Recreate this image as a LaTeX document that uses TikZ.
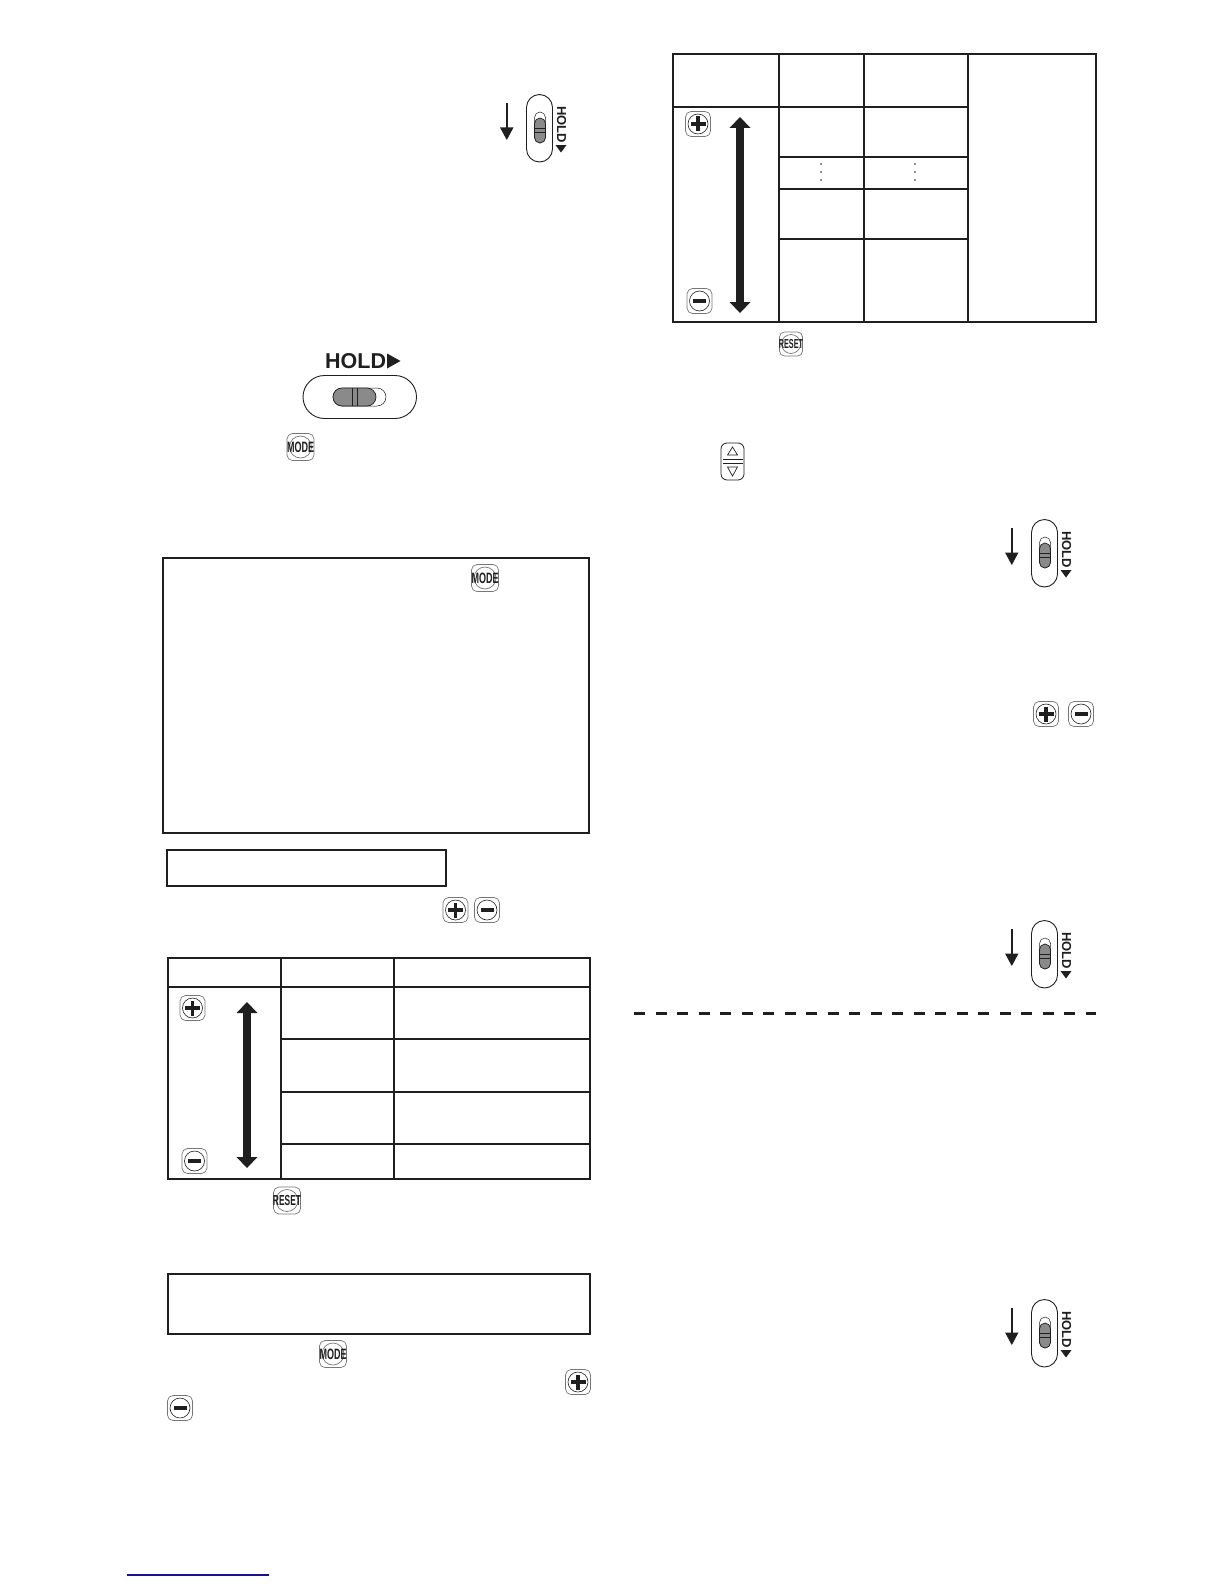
\documentclass[tikz,border=0pt]{standalone}
\usepackage{fontspec}
\setmainfont{Liberation Sans}
\definecolor{ink}{HTML}{1F1F1F}
\definecolor{slider}{HTML}{8A8A8A}
\definecolor{btn}{HTML}{777777}
\definecolor{navy}{HTML}{14148C}
\tikzset{
  rule/.style={draw=ink,line width=2pt},
  thinbtn/.style={draw=btn,line width=0.7pt},
  outline/.style={draw=ink,line width=0.9pt},
  gray slide/.style={fill=slider,draw=ink,line width=0.7pt},
  btnlabel/.style={inner sep=0pt,text=ink},
}
\newcommand{\keytext}[5]{%
  \draw[thinbtn,rounded corners=5.5pt] (#1-13.5,#2-13.5) rectangle (#1+13.5,#2+13.5);
  \draw[thinbtn] (#1,#2) circle (11);
  \node[btnlabel,font=\bfseries\fontsize{#4}{#4}\selectfont,xscale=#5] (#3) at (#1,#2) {#3};
}
\newcommand{\smallkeytext}[5]{%
  \draw[thinbtn,rounded corners=5pt] (#1-11.5,#2-12) rectangle (#1+11.5,#2+12);
  \draw[thinbtn] (#1,#2) circle (9.5);
  \node[btnlabel,font=\bfseries\fontsize{#4}{#4}\selectfont,xscale=#5] (#3) at (#1,#2) {#3};
}
\newcommand{\pluskey}[2]{%
  \draw[thinbtn,rounded corners=5.5pt] (#1-12.5,#2-12.5) rectangle (#1+12.5,#2+12.5);
  \draw[draw=ink,line width=0.6pt] (#1,#2) circle (10);
  \fill[ink] (#1-7.5,#2-1.9) rectangle (#1+7.5,#2+1.9);
  \fill[ink] (#1-1.9,#2-7.5) rectangle (#1+1.9,#2+7.5);
}
\newcommand{\minuskey}[2]{%
  \draw[thinbtn,rounded corners=5.5pt] (#1-12.5,#2-12.5) rectangle (#1+12.5,#2+12.5);
  \draw[draw=ink,line width=0.6pt] (#1,#2) circle (10);
  \fill[ink] (#1-6.5,#2-2.2) rectangle (#1+6.5,#2+2.2);
}
\newcommand{\vhold}[2]{%
  \begin{scope}[shift={(#1,#2)}]
    \fill[ink] (505.8,103) rectangle (507.8,128);
    \fill[ink] (500,127.5) -- (513.5,127.5) -- (506.8,140) -- cycle;
    \draw[outline,rounded corners=13pt] (526.5,94.5) rectangle (552.5,162);
    \draw[draw=ink,line width=0.5pt,rounded corners=5.5pt] (534.5,112) rectangle (545.5,143);
    \draw[gray slide,rounded corners=5.5pt] (534.5,118) rectangle (545.5,143);
    \draw[draw=ink,line width=0.3pt] (534.5,128) -- (545.5,128) (534.5,132) -- (545.5,132);
    \node[font=\bfseries\fontsize{13}{13}\selectfont,rotate=-90,inner sep=0pt,text=ink] at (561.5,124.5) {HOLD};
    \fill[ink] (555.5,145) -- (566.5,145) -- (561,152.5) -- cycle;
  \end{scope}
}
\newcommand{\dblarrow}[3]{%
  \fill[ink] (#1-3.7,#2+9) rectangle (#1+3.7,#3-9);
  \fill[ink] (#1,#2) -- (#1+10.5,#2+11) -- (#1-10.5,#2+11) -- cycle;
  \fill[ink] (#1,#3) -- (#1+10.5,#3-11) -- (#1-10.5,#3-11) -- cycle;
}
\newcommand{\vdotsat}[2]{%
  \fill[ink] (#1,#2-8) circle (0.9) (#1,#2) circle (0.9) (#1,#2+8) circle (0.9);
}
\begin{document}
\begin{tikzpicture}[x=1pt,y=-1pt]
\useasboundingbox[fill=white] (0,0) rectangle (1224,1584);

\vhold{0}{0}
\node[font=\bfseries\fontsize{21.5}{21.5}\selectfont,inner sep=0pt,anchor=west,text=ink] (holdtxt) at (325,361) {HOLD};
\fill[ink] (387,353.5) -- (400.5,361) -- (387,368.5) -- cycle;
\draw[outline,rounded corners=21.5pt] (303,375.5) rectangle (416.5,418.5);
\draw[draw=ink,line width=0.5pt,rounded corners=9pt] (333,388) rectangle (386,406);
\draw[gray slide,rounded corners=9pt] (333,388) rectangle (376,406);
\draw[draw=ink,line width=0.3pt] (352,388) -- (352,406) (357,388) -- (357,406);
\keytext{300.5}{447}{MODE}{15}{0.6}

\draw[rule] (163,558) rectangle (589,832.5);
\keytext{485}{578}{MODE}{15}{0.6}
\draw[rule] (167,850) rectangle (446,886);
\pluskey{455.5}{910}
\minuskey{487}{910}

\draw[rule] (168,958) rectangle (590,1179);
\draw[rule] (281,958) -- (281,1179) (394,958) -- (394,1179);
\draw[rule] (168,987) -- (590,987);
\draw[rule] (281,1039) -- (590,1039) (281,1092) -- (590,1092) (281,1144) -- (590,1144);
\pluskey{192.5}{1008}
\minuskey{194.5}{1161}
\dblarrow{247}{1002}{1168}
\keytext{287}{1200.5}{RESET}{14.5}{0.58}

\draw[rule] (168,1274) rectangle (590,1334);
\keytext{333}{1354}{MODE}{15}{0.6}
\pluskey{578}{1382}
\minuskey{180}{1408}

\draw[rule] (673,54) rectangle (1096,322);
\draw[rule] (779,54) -- (779,322) (863.5,54) -- (863.5,322) (967.5,54) -- (967.5,322);
\draw[rule] (673,107) -- (967.5,107);
\draw[rule] (779,157) -- (967.5,157) (779,189) -- (967.5,189) (779,239) -- (967.5,239);
\pluskey{698}{124}
\minuskey{699.5}{301}
\dblarrow{740}{117}{313}
\vdotsat{821}{172}
\vdotsat{915}{172}
\smallkeytext{791}{344}{RESET}{13}{0.56}

\draw[draw=ink,line width=0.8pt,rounded corners=6pt] (721,443) rectangle (744,480);
\draw[draw=ink,line width=0.8pt] (723,459.5) -- (743,459.5) (723,463) -- (743,463);
\draw[draw=ink,line width=0.7pt,line join=miter] (732.5,447) -- (737.5,455) -- (727.5,455) -- cycle;
\draw[draw=ink,line width=0.7pt,line join=miter] (727.5,467) -- (737.5,467) -- (732.5,476) -- cycle;

\vhold{505}{425}
\pluskey{1046}{714}
\minuskey{1081}{714}
\vhold{505}{826}
\draw[draw=ink,line width=3pt,dash pattern=on 11pt off 10.5pt] (634,1013.5) -- (1096,1013.5);
\vhold{505}{1205}

\draw[draw=navy,line width=1.1pt] (127,1575) -- (269,1575);
\end{tikzpicture}
\end{document}
